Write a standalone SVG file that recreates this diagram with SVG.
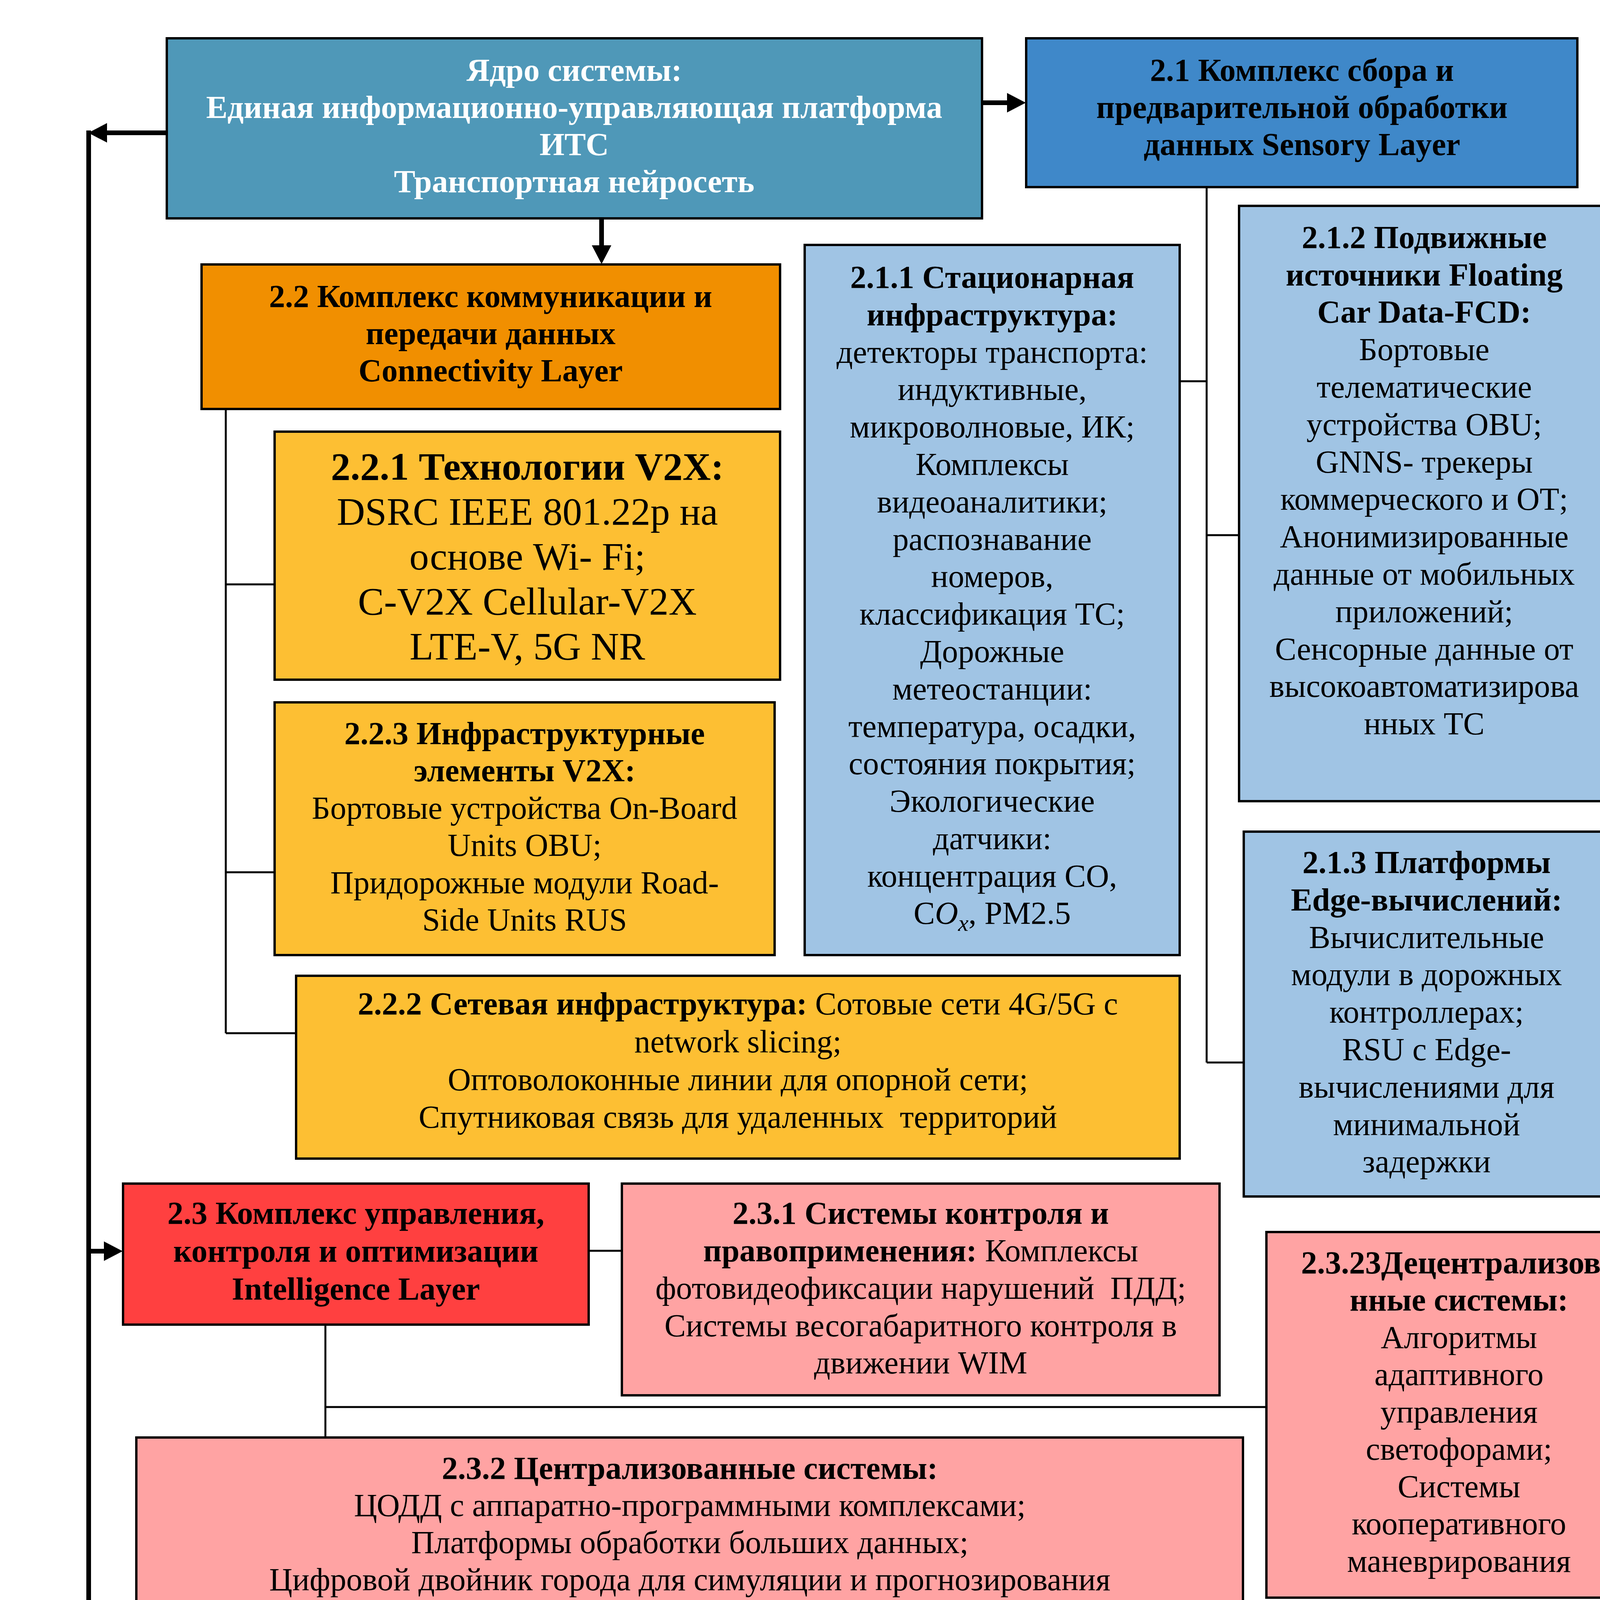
<svg xmlns="http://www.w3.org/2000/svg" width="4313" height="6073" viewBox="0 0 4313 6073">
<style>
.box{stroke:#000;stroke-width:6}
.core{fill:#4F98B8}.l1{fill:#3F88C9}.s1{fill:#A0C4E4}
.l2{fill:#F18F00}.s2{fill:#FDBF33}
.l3{fill:#FF4040}.s3{fill:#FFA3A3}
.l4{fill:#0AFA6B}.s4{fill:#90FEB8}
.l5{fill:#E916FA}.s5{fill:#F8B8F8}
text{font-family:"Liberation Serif","Times New Roman",serif;font-size:82px;text-anchor:middle;fill:#000;white-space:pre}
.b{font-weight:bold}
.w{fill:#fff}
.big{font-size:100px}
.main{stroke:#000;stroke-width:12;fill:none}
.thin{stroke:#000;stroke-width:5;fill:none}
</style>
<defs>
<marker id="ah" markerUnits="userSpaceOnUse" markerWidth="48" markerHeight="50" refX="0" refY="25" orient="auto" viewBox="0 0 48 50">
<path d="M0,0 L48,25 L0,50 z" fill="#000"/>
</marker>
</defs>
<rect width="4313" height="6073" fill="#fff"/>

<g id="connectors">
<path class="main" d="M2517,263 H2578" marker-end="url(#ah)"/>
<path class="main" d="M1540,562 V628" marker-end="url(#ah)"/>
<path class="main" d="M424,340 H274" marker-end="url(#ah)"/>
<path class="main" d="M227,334 V5399" marker-end="url(#ah)"/>
<path class="main" d="M221,5446 H297" marker-end="url(#ah)"/>
<path class="main" d="M227,3203 H266" marker-end="url(#ah)"/>
<path class="main" d="M227,4407 H270" marker-end="url(#ah)"/>
<path class="thin" d="M3089,479 V2720"/>
<path class="thin" d="M3020,976 H3089"/>
<path class="thin" d="M3089,1370 H3171"/>
<path class="thin" d="M3089,2720 H3182"/>
<path class="thin" d="M578,1047 V2645"/>
<path class="thin" d="M578,1496 H701"/>
<path class="thin" d="M578,2233 H701"/>
<path class="thin" d="M578,2645 H756"/>
<path class="thin" d="M1507,3202 H1590"/>
<path class="thin" d="M833,3391 V3677"/>
<path class="thin" d="M833,3602 H3240"/>
<path class="thin" d="M1650,4407 H1851"/>
<path class="thin" d="M1791,4407 V5047 H2126"/>
<path class="thin" d="M943,4603 V4663"/>
<path class="thin" d="M1890,5484 H2277"/>
<path class="thin" d="M2027,5484 V5558"/>
</g>

<g id="core">
<rect class="box core" x="427" y="98" width="2087" height="461"/>
<text class="b w" x="1470" y="207">Ядро системы:</text>
<text class="b w" x="1470" y="302">Единая информационно-управляющая платформа</text>
<text class="b w" x="1470" y="397">ИТС</text>
<text class="b w" x="1470" y="492">Транспортная нейросеть</text>
</g>

<g id="n21">
<rect class="box l1" x="2627" y="98" width="1411" height="381"/>
<text class="b" x="3333" y="207">2.1 Комплекс сбора и</text>
<text class="b" x="3333" y="302">предварительной обработки</text>
<text class="b" x="3333" y="397">данных Sensory Layer</text>
</g>

<g id="n22">
<rect class="box l2" x="516" y="677" width="1481" height="370"/>
<text class="b" x="1256" y="786">2.2 Комплекс коммуникации и</text>
<text class="b" x="1256" y="881">передачи данных</text>
<text class="b" x="1256" y="976">Connectivity Layer</text>
</g>

<g id="n211">
<rect class="box s1" x="2060" y="627" width="960" height="1818"/>
<text class="b" x="2540" y="737">2.1.1 Стационарная</text>
<text class="b" x="2540" y="833">инфраструктура:</text>
<text x="2540" y="929">детекторы транспорта:</text>
<text x="2540" y="1024">индуктивные,</text>
<text x="2540" y="1120">микроволновые, ИК;</text>
<text x="2540" y="1216">Комплексы</text>
<text x="2540" y="1312">видеоаналитики;</text>
<text x="2540" y="1408">распознавание</text>
<text x="2540" y="1503">номеров,</text>
<text x="2540" y="1599">классификация ТС;</text>
<text x="2540" y="1695">Дорожные</text>
<text x="2540" y="1791">метеостанции:</text>
<text x="2540" y="1887">температура, осадки,</text>
<text x="2540" y="1982">состояния покрытия;</text>
<text x="2540" y="2078">Экологические</text>
<text x="2540" y="2174">датчики:</text>
<text x="2540" y="2270">концентрация CO,</text>
<text x="2540" y="2365">C<tspan font-style="italic">O</tspan><tspan font-style="italic" font-size="60" dy="18">x</tspan><tspan dy="-18">, PM2.5</tspan></text>
</g>

<g id="n212">
<rect class="box s1" x="3172" y="527" width="948" height="1524"/>
<text class="b" x="3646" y="635">2.1.2 Подвижные</text>
<text class="b" x="3646" y="731">источники Floating</text>
<text class="b" x="3646" y="826">Car Data-FCD:</text>
<text x="3646" y="922">Бортовые</text>
<text x="3646" y="1018">телематические</text>
<text x="3646" y="1114">устройства OBU;</text>
<text x="3646" y="1210">GNNS- трекеры</text>
<text x="3646" y="1305">коммерческого и ОТ;</text>
<text x="3646" y="1401">Анонимизированные</text>
<text x="3646" y="1497">данные от мобильных</text>
<text x="3646" y="1593">приложений;</text>
<text x="3646" y="1689">Сенсорные данные от</text>
<text x="3646" y="1784">высокоавтоматизирова</text>
<text x="3646" y="1880">нных ТС</text>
</g>

<g id="n213">
<rect class="box s1" x="3184" y="2129" width="936" height="934"/>
<text class="b" x="3652" y="2235">2.1.3 Платформы</text>
<text class="b" x="3652" y="2331">Edge-вычислений:</text>
<text x="3652" y="2427">Вычислительные</text>
<text x="3652" y="2522">модули в дорожных</text>
<text x="3652" y="2618">контроллерах;</text>
<text x="3652" y="2714">RSU с Edge-</text>
<text x="3652" y="2810">вычислениями для</text>
<text x="3652" y="2906">минимальной</text>
<text x="3652" y="3001">задержки</text>
</g>

<g id="n221">
<rect class="box s2" x="703" y="1105" width="1294" height="635"/>
<text class="b big" x="1350" y="1228">2.2.1 Технологии V2X:</text>
<text class="big" x="1350" y="1343">DSRC IEEE 801.22p на</text>
<text class="big" x="1350" y="1458">основе Wi- Fi;</text>
<text class="big" x="1350" y="1573">C-V2X Cellular-V2X</text>
<text class="big" x="1350" y="1688">LTE-V, 5G NR</text>
</g>

<g id="n223">
<rect class="box s2" x="703" y="1798" width="1280" height="647"/>
<text class="b" x="1343" y="1905">2.2.3 Инфраструктурные</text>
<text class="b" x="1343" y="2000">элементы V2X:</text>
<text x="1343" y="2096">Бортовые устройства On-Board</text>
<text x="1343" y="2191">Units OBU;</text>
<text x="1343" y="2287">Придорожные модули Road-</text>
<text x="1343" y="2382">Side Units RUS</text>
</g>

<g id="n222">
<rect class="box s2" x="758" y="2498" width="2262" height="468"/>
<text x="1889" y="2597"><tspan class="b">2.2.2 Сетевая инфраструктура:</tspan> Сотовые сети 4G/5G с</text>
<text x="1889" y="2694">network slicing;</text>
<text x="1889" y="2791">Оптоволоконные линии для опорной сети;</text>
<text x="1889" y="2887">Спутниковая связь для удаленных  территорий</text>
</g>

<g id="n23">
<rect class="box l3" x="315" y="3030" width="1192" height="361"/>
<text class="b" x="911" y="3133">2.3 Комплекс управления,</text>
<text class="b" x="911" y="3230">контроля и оптимизации</text>
<text class="b" x="911" y="3327">Intelligence Layer</text>
</g>

<g id="n231">
<rect class="box s3" x="1592" y="3030" width="1530" height="542"/>
<text class="b" x="2357" y="3133">2.3.1 Системы контроля и</text>
<text x="2357" y="3229"><tspan class="b">правоприменения:</tspan> Комплексы</text>
<text x="2357" y="3325">фотовидеофиксации нарушений  ПДД;</text>
<text x="2357" y="3421">Системы весогабаритного контроля в</text>
<text x="2357" y="3516">движении WIM</text>
</g>

<g id="n2323">
<rect class="box s3" x="3242" y="3154" width="986" height="936"/>
<text class="b" x="3735" y="3260">2.3.23Децентрализова</text>
<text class="b" x="3735" y="3355">нные системы:</text>
<text x="3735" y="3451">Алгоритмы</text>
<text x="3735" y="3546">адаптивного</text>
<text x="3735" y="3642">управления</text>
<text x="3735" y="3737">светофорами;</text>
<text x="3735" y="3833">Системы</text>
<text x="3735" y="3928">кооперативного</text>
<text x="3735" y="4024">маневрирования</text>
</g>

<g id="n232">
<rect class="box s3" x="349" y="3680" width="2833" height="453"/>
<text class="b" x="1766" y="3786">2.3.2 Централизованные системы:</text>
<text x="1766" y="3881">ЦОДД с аппаратно-программными комплексами;</text>
<text x="1766" y="3976">Платформы обработки больших данных;</text>
<text x="1766" y="4071">Цифровой двойник города для симуляции и прогнозирования</text>
</g>

<g id="n24">
<rect class="box l4" x="318" y="4242" width="1332" height="361"/>
<text class="b" x="984" y="4347">2.4 Комплекс  автоматизации</text>
<text class="b" x="984" y="4444">транспортных средств</text>
<text class="b" x="984" y="4540">Vehicle Automation Layer</text>
</g>

<g id="n242">
<rect class="box s4" x="1853" y="4166" width="2375" height="550"/>
<text class="b" x="3040" y="4270">2.4.2 Высоко- и полностью автоматизированные системы</text>
<text x="3040" y="4365"><tspan class="b">SAE  Уровни 3-5:</tspan> Автопилоты для трасс  Hghway Pilot;</text>
<text x="3040" y="4461">Автопилоты для пробок</text>
<text x="3040" y="4556">Traffic Jam Pilot;</text>
<text x="3040" y="4652">Роботакси и автономные шаттлы</text>
</g>

<g id="n241">
<rect class="box s4" x="349" y="4666" width="1384" height="543"/>
<text class="b" x="1041" y="4772">2.4.1 Системы помощи водителю</text>
<text class="b" x="1041" y="4867">ADAS</text>
<text x="1041" y="4962"><tspan class="b">SAE Уровни 1-2:</tspan> Адаптивный</text>
<text x="1041" y="5058">круиз-контроль АСС;</text>
<text x="1041" y="5154">Удержание в полосе LKA</text>
</g>

<g id="n243">
<rect class="box s4" x="2128" y="4755" width="2100" height="649"/>
<text class="b" x="3178" y="4859">2.4.3 Сенсорная и вычислительная платформа ТС:</text>
<text x="3178" y="4954">Сенсорный комплекс:</text>
<text x="3178" y="5050">камеры, радары, лидары;</text>
<text x="3178" y="5145">Алгоритмы слияния данных</text>
<text x="3178" y="5240">Sensor Fusion;</text>
<text x="3178" y="5336">Бортовые компьютеры с AI- ускорителями</text>
</g>

<g id="n25">
<rect class="box l5" x="346" y="5246" width="1544" height="271"/>
<text class="b" x="1118" y="5356">2.5 Комплекс сервисов для конечных</text>
<text class="b" x="1118" y="5452">пользователей Service Layer</text>
</g>

<g id="n251">
<rect class="box s5" x="228" y="5560" width="2000" height="374"/>
<text class="b" x="1228" y="5664">2.5.1 Информационные сервисы:</text>
<text x="1228" y="5760">Динамические информационные табло VMS;</text>
<text x="1228" y="5855">Мобильные навигационные и MaaS- приложения</text>
</g>

<g id="n252">
<rect class="box s5" x="2279" y="5448" width="1949" height="448"/>
<text class="b" x="3253" y="5551">2.5.2 Транзакционные сервисы:</text>
<text x="3253" y="5647">Системы безбарьерной оплаты проезда Free-flow;</text>
<text x="3253" y="5742">Интеллектуальные парковочные системы;</text>
<text x="3253" y="5837">Платформы Мобильность как услуга MaaS</text>
</g>
</svg>
